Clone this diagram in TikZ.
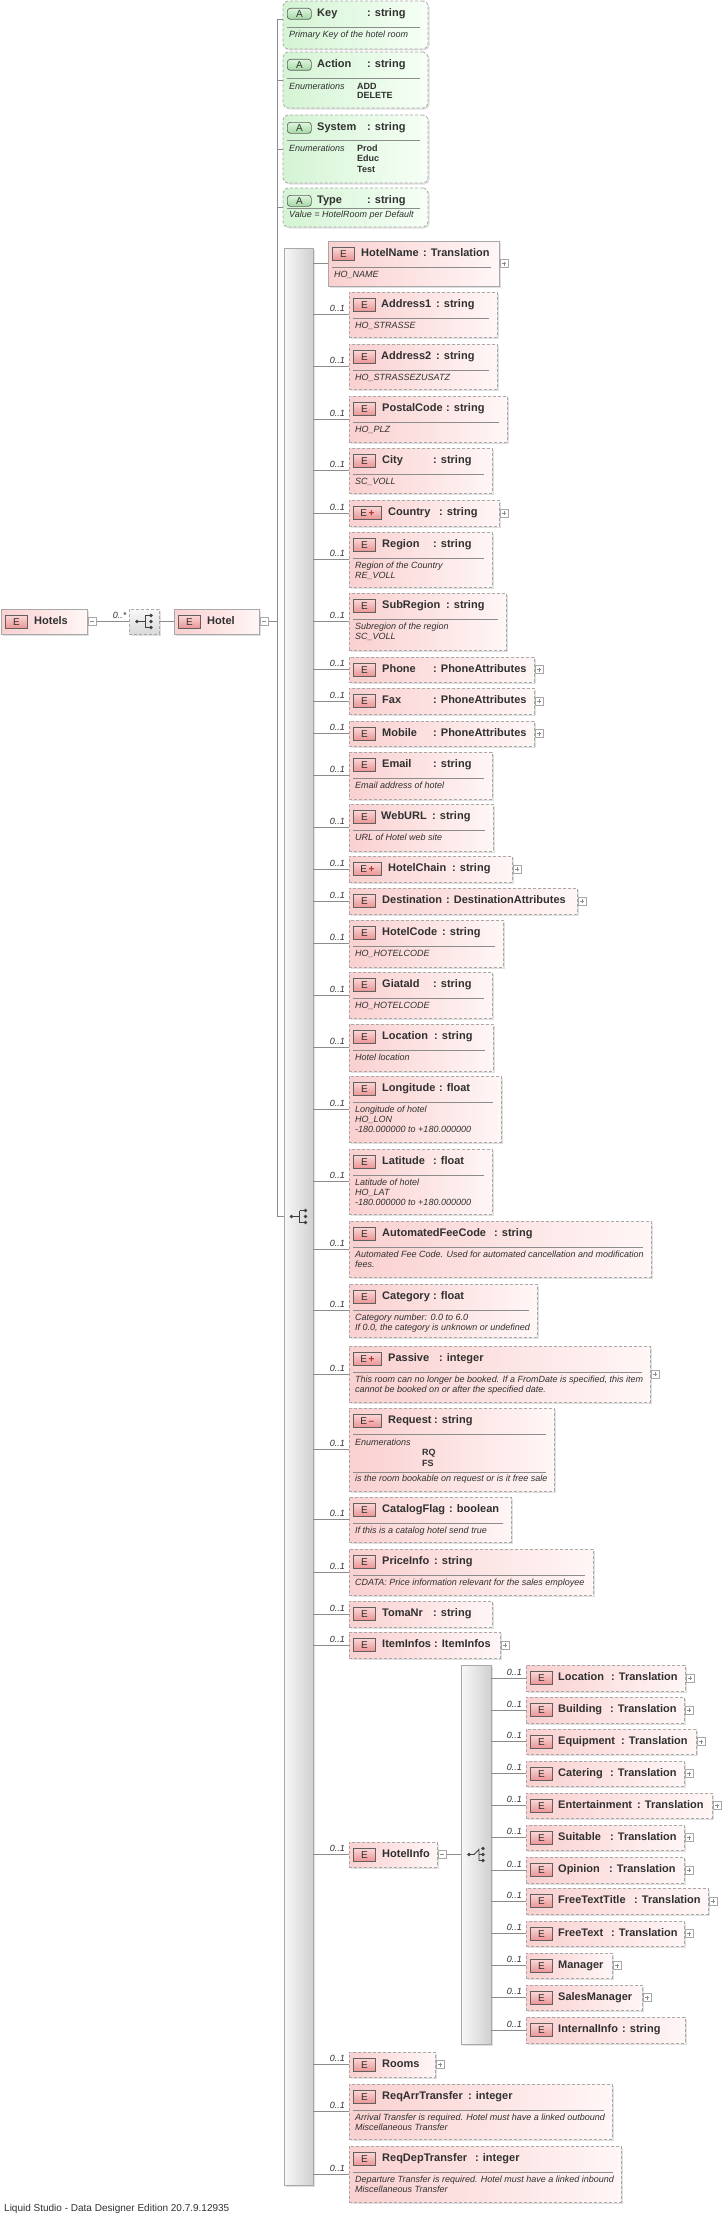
\documentclass[tikz,border=0pt]{standalone}
\usepackage{fontspec}
\setmainfont{Liberation Sans}
\usetikzlibrary{positioning,calc,shadows}
\definecolor{linegray}{HTML}{8C8C8C}
\definecolor{boxgray}{HTML}{A8A8A8}
\definecolor{pinkL}{HTML}{FAD0D0}
\definecolor{pinkR}{HTML}{FFF6F6}
\definecolor{icoT}{HTML}{FBD6D6}
\definecolor{icoB}{HTML}{EC9494}
\definecolor{icoline}{HTML}{606060}
\definecolor{greenL}{HTML}{D4F4D4}
\definecolor{greenR}{HTML}{F6FFF6}
\definecolor{agreenT}{HTML}{DDF6DD}
\definecolor{agreenB}{HTML}{A4D8A4}
\definecolor{barL}{HTML}{F8F8F8}
\definecolor{barR}{HTML}{D0D0D0}
\definecolor{txt}{HTML}{303030}
\definecolor{icondark}{HTML}{404040}
\definecolor{badgered}{HTML}{B03030}

% box of one element, from its left/top/right/bottom in pixels
\newcommand{\elbox}[6][elem]{\node[#1,minimum width={#5-#3},minimum height={#6-#4}] (#2) at (#3,#4) {};}
\newcommand{\eico}[3][]{\node[eico,#1] (#2-i) at ([shift={(4,6)}]#2.north west) {#3};}
\newcommand{\aico}[1]{\node[aico] (#1-i) at ([shift={(4,7)}]#1.north west) {A};}
\newcommand{\ename}[3]{\node[ttl] (#1-n) at ([shift={(#2,15.5)}]#1.north west) {#3};}
\newcommand{\etype}[3]{\node[ttl] (#1-y) at ([shift={(#2,15.5)}]#1.north west) {: #3};}
\newcommand{\esep}[2][26.5]{\draw[sepl] ([shift={(4,#1)}]#2.north west) -- ([shift={(-8,#1)}]#2.north east);}
\newcommand{\edesc}[3][36.5]{\foreach \ln [count=\i from 0] in {#3} \node[dsc] (#2-d\i) at ([shift={(6,#1+10*\i)}]#2.north west) {\ln};}
% sequence and choice marks on the bars
\newcommand{\seqicon}[1]{%
  \begin{scope}[shift={#1}]
    \draw[icondark,line width=0.8pt] (-7,0) -- (1,0) (1,-6) -- (1,6) (1,-6) -- (7,-6) (1,6) -- (7,6);
    \fill[icondark] (-7,0) circle (1.8pt) (7,-6) circle (1.8pt) (7,0) circle (1.8pt) (7,6) circle (1.8pt);
  \end{scope}}
\newcommand{\choiceicon}[1]{%
  \begin{scope}[shift={#1}]
    \draw[icondark,line width=0.8pt] (-7,0) -- (-2,0) -- (3,-5) (3,0) -- (7,0) (3,-6) -- (3,6) (3,6) -- (7,6);
    \fill[icondark] (-7,0) circle (1.8pt) (7,-6) circle (1.8pt) (7,0) circle (1.8pt) (7,6) circle (1.8pt);
  \end{scope}}

\begin{document}
\begin{tikzpicture}[x=1pt,y=-1pt,
    conn/.style={draw=linegray,line width=0.8pt},
    myshadow/.style={drop shadow={shadow xshift=1.5pt,shadow yshift=-1.5pt,fill=black,opacity=0.12}}]
  \tikzstyle{elem}=[rectangle,anchor=north west,draw=boxgray,line width=0.8pt,dash pattern=on 3pt off 2pt,left color=pinkL,right color=pinkR,inner sep=0pt,outer sep=0pt,myshadow]
  \tikzstyle{elemsolid}=[elem,solid]
  \tikzstyle{attr}=[elem,rounded corners=5pt,left color=greenL,right color=greenR]
  \tikzstyle{eico}=[rectangle,anchor=north west,draw=icoline,line width=0.7pt,top color=icoT,bottom color=icoB,minimum width=22pt,minimum height=13pt,inner sep=0pt,font=\fontsize{10}{10}\selectfont,text=txt]
  \tikzstyle{aico}=[eico,rounded corners=3pt,top color=agreenT,bottom color=agreenB,minimum width=24pt,minimum height=11pt]
  \tikzstyle{ttl}=[inner sep=0pt,anchor=base west,text=txt,font=\fontsize{11}{13}\selectfont\bfseries]
  \tikzstyle{dsc}=[inner sep=0pt,anchor=base west,text=txt,font=\fontsize{9}{10}\selectfont\itshape]
  \tikzstyle{enumval}=[dsc,font=\fontsize{9}{10}\selectfont\bfseries]
  \tikzstyle{occl}=[inner sep=0pt,anchor=base east,text=txt,font=\fontsize{9}{10}\selectfont\itshape]
  \tikzstyle{sepl}=[draw=linegray,line width=0.6pt]
  \tikzstyle{pm}=[rectangle,anchor=west,draw=boxgray,fill=white,line width=0.6pt,minimum size=8pt,inner sep=0pt]
  \tikzstyle{pmplus}=[pm,path picture={\draw[linegray,line width=0.6pt] ([xshift=2pt]path picture bounding box.west) -- ([xshift=-2pt]path picture bounding box.east) ([yshift=-2pt]path picture bounding box.north) -- ([yshift=2pt]path picture bounding box.south);}]
  \tikzstyle{pmminus}=[pm,path picture={\draw[linegray,line width=0.6pt] ([xshift=2pt]path picture bounding box.west) -- ([xshift=-2pt]path picture bounding box.east);}]
  \tikzstyle{bar}=[rectangle,draw=boxgray,line width=0.8pt,left color=barL,right color=barR,inner sep=0pt,myshadow]
  \tikzstyle{seqb}=[rectangle,draw=boxgray,line width=0.8pt,dash pattern=on 3pt off 2pt,top color=barL,bottom color=barR!80,minimum width=30pt,minimum height=25pt,inner sep=0pt,myshadow]

  \path[use as bounding box,fill=white] (0,0) rectangle (724,2216);

  % root elements
  \elbox[elemsolid]{hotels}{1}{609}{87}{634} \eico{hotels}{E} \ename{hotels}{33}{Hotels}
  \node[seqb] (seqbox) at (144,621.5) {};
  \elbox[elemsolid]{hotel}{174}{609}{259}{634} \eico{hotel}{E} \ename{hotel}{33}{Hotel}
  \foreach \nm in {hotels,hotel}
    \node[pmminus] (\nm-pm) at ([xshift=1pt]\nm.east) {};
  \seqicon{(seqbox.center)}
  \coordinate (trunk) at (277,621.5);

  % attributes
  \elbox[attr]{key}{283}{1}{428}{49} \aico{key} \ename{key}{34}{Key} \etype{key}{84}{string} \esep{key}
  \edesc{key}{Primary Key of the hotel room}
  \elbox[attr]{action}{283}{52}{428}{108} \aico{action} \ename{action}{34}{Action} \etype{action}{84}{string} \esep{action}
  \node[dsc] (action-en) at ([shift={(6,37)}]action.north west) {Enumerations};
  \foreach \v [count=\i from 0] in {ADD,DELETE}
    \node[enumval] (action-v\i) at ([shift={(74,37+10*\i)}]action.north west) {\v};
  \elbox[attr]{system}{283}{115}{428}{183} \aico{system} \ename{system}{34}{System} \etype{system}{84}{string} \esep[25.5]{system}
  \node[dsc] (system-en) at ([shift={(6,36)}]system.north west) {Enumerations};
  \foreach \v [count=\i from 0] in {Prod,Educ,Test}
    \node[enumval] (system-v\i) at ([shift={(74,36+10.5*\i)}]system.north west) {\v};
  \elbox[attr]{type}{283}{188}{428}{227} \aico{type} \ename{type}{34}{Type} \etype{type}{84}{string} \esep[20]{type}
  \edesc[29]{type}{Value = HotelRoom per Default}

  % sequence of Hotel
  \node[bar,minimum width=29pt,minimum height=1937pt] (mainbar) at (298.5,1216.5) {};

  \elbox[elemsolid]{hotelname}{328}{241}{499}{286} \eico{hotelname}{E} \ename{hotelname}{33}{HotelName} \etype{hotelname}{95}{Translation} \esep{hotelname} \edesc{hotelname}{HO\_NAME}
  \elbox{address1}{349}{292}{497}{337} \eico{address1}{E} \ename{address1}{32}{Address1} \etype{address1}{87}{string} \esep{address1} \edesc{address1}{HO\_STRASSE}
  \elbox{address2}{349}{344}{497}{389} \eico{address2}{E} \ename{address2}{32}{Address2} \etype{address2}{87}{string} \esep{address2} \edesc{address2}{HO\_STRASSEZUSATZ}
  \elbox{postalcode}{349}{396}{507}{442} \eico{postalcode}{E} \ename{postalcode}{33}{PostalCode} \etype{postalcode}{97}{string} \esep{postalcode} \edesc{postalcode}{HO\_PLZ}
  \elbox{city}{349}{448}{492}{493} \eico{city}{E} \ename{city}{33}{City} \etype{city}{84}{string} \esep{city} \edesc{city}{SC\_VOLL}
  \elbox{country}{349}{500}{499}{526} \eico[minimum width=28pt]{country}{E\,\textcolor{badgered}{\textbf{+}}} \ename{country}{39}{Country} \etype{country}{90}{string}
  \elbox{region}{349}{532}{492}{587} \eico{region}{E} \ename{region}{33}{Region} \etype{region}{84}{string} \esep{region} \edesc{region}{Region of the Country,RE\_VOLL}
  \elbox{subregion}{349}{593}{506}{650} \eico{subregion}{E} \ename{subregion}{33}{SubRegion} \etype{subregion}{97}{string} \esep{subregion} \edesc{subregion}{Subregion of the region,SC\_VOLL}
  \elbox{phone}{349}{657}{534}{682} \eico{phone}{E} \ename{phone}{33}{Phone} \etype{phone}{84}{PhoneAttributes}
  \elbox{fax}{349}{688}{534}{714} \eico{fax}{E} \ename{fax}{33}{Fax} \etype{fax}{84}{PhoneAttributes}
  \elbox{mobile}{349}{721}{534}{746} \eico{mobile}{E} \ename{mobile}{33}{Mobile} \etype{mobile}{84}{PhoneAttributes}
  \elbox{email}{349}{752}{492}{799} \eico{email}{E} \ename{email}{33}{Email} \etype{email}{84}{string} \esep{email} \edesc{email}{Email address of hotel}
  \elbox{weburl}{349}{804}{493}{851} \eico{weburl}{E} \ename{weburl}{32}{WebURL} \etype{weburl}{83}{string} \esep{weburl} \edesc{weburl}{URL of Hotel web site}
  \elbox{hotelchain}{349}{856}{512}{882} \eico[minimum width=28pt]{hotelchain}{E\,\textcolor{badgered}{\textbf{+}}} \ename{hotelchain}{39}{HotelChain} \etype{hotelchain}{103}{string}
  \elbox{destination}{349}{888}{577}{914} \eico{destination}{E} \ename{destination}{33}{Destination} \etype{destination}{97}{DestinationAttributes}
  \elbox{hotelcode}{349}{920}{503}{967} \eico{hotelcode}{E} \ename{hotelcode}{33}{HotelCode} \etype{hotelcode}{93}{string} \esep{hotelcode} \edesc{hotelcode}{HO\_HOTELCODE}
  \elbox{giataid}{349}{972}{492}{1018} \eico{giataid}{E} \ename{giataid}{33}{GiataId} \etype{giataid}{84}{string} \esep{giataid} \edesc{giataid}{HO\_HOTELCODE}
  \elbox{location}{349}{1024}{493}{1071} \eico{location}{E} \ename{location}{33}{Location} \etype{location}{85}{string} \esep{location} \edesc{location}{Hotel location}
  \elbox{longitude}{349}{1076}{501}{1142} \eico{longitude}{E} \ename{longitude}{33}{Longitude} \etype{longitude}{90}{float} \esep{longitude} \edesc{longitude}{Longitude of hotel,HO\_LON,-180.000000 to +180.000000}
  \elbox{latitude}{349}{1149}{492}{1214} \eico{latitude}{E} \ename{latitude}{33}{Latitude} \etype{latitude}{84}{float} \esep{latitude} \edesc{latitude}{Latitude of hotel,HO\_LAT,-180.000000 to +180.000000}
  \elbox{autofee}{349}{1221}{651}{1277} \eico{autofee}{E} \ename{autofee}{33}{AutomatedFeeCode} \etype{autofee}{145}{string} \esep{autofee} \edesc{autofee}{Automated Fee Code. Used for automated cancellation and modification,fees.}
  \elbox{category}{349}{1284}{537}{1337} \eico{category}{E} \ename{category}{33}{Category} \etype{category}{84}{float} \esep{category} \edesc{category}{Category number: 0.0 to 6.0,{If 0.0, the category is unknown or undefined}}
  \elbox{passive}{349}{1346}{650}{1402} \eico[minimum width=28pt]{passive}{E\,\textcolor{badgered}{\textbf{+}}} \ename{passive}{39}{Passive} \etype{passive}{90}{integer} \esep{passive} \edesc{passive}{{This room can no longer be booked. If a FromDate is specified, this item},cannot be booked on or after the specified date.}
  \elbox{request}{349}{1408}{554}{1491} \eico[minimum width=28pt]{request}{E\,\textcolor{badgered}{\textbf{--}}} \ename{request}{39}{Request} \etype{request}{85}{string} \esep{request}
  \node[dsc] (request-en) at ([shift={(6,37)}]request.north west) {Enumerations};
  \foreach \v [count=\i from 0] in {RQ,FS}
    \node[enumval] (request-v\i) at ([shift={(73,47.5+10.5*\i)}]request.north west) {\v};
  \esep[64]{request} \edesc[73]{request}{is the room bookable on request or is it free sale}
  \elbox{catalogflag}{349}{1497}{511}{1542} \eico{catalogflag}{E} \ename{catalogflag}{33}{CatalogFlag} \etype{catalogflag}{100}{boolean} \esep{catalogflag} \edesc{catalogflag}{If this is a catalog hotel send true}
  \elbox{priceinfo}{349}{1549}{593}{1595} \eico{priceinfo}{E} \ename{priceinfo}{33}{PriceInfo} \etype{priceinfo}{85}{string} \esep{priceinfo} \edesc{priceinfo}{CDATA: Price information relevant for the sales employee}
  \elbox{tomanr}{349}{1601}{492}{1627} \eico{tomanr}{E} \ename{tomanr}{33}{TomaNr} \etype{tomanr}{84}{string}
  \elbox{iteminfos}{349}{1632}{500}{1658} \eico{iteminfos}{E} \ename{iteminfos}{33}{ItemInfos} \etype{iteminfos}{85}{ItemInfos}
  \elbox{hotelinfo}{349}{1842}{437}{1867} \eico{hotelinfo}{E} \ename{hotelinfo}{33}{HotelInfo}
  \node[pmminus] (hotelinfo-pm) at ([xshift=1pt]hotelinfo.east) {};
  \elbox{rooms}{349}{2052}{435}{2077} \eico{rooms}{E} \ename{rooms}{33}{Rooms}
  \elbox{reqarr}{349}{2084}{612}{2139} \eico{reqarr}{E} \ename{reqarr}{33}{ReqArrTransfer} \etype{reqarr}{119}{integer} \esep{reqarr} \edesc{reqarr}{Arrival Transfer is required. Hotel must have a linked outbound,Miscellaneous Transfer}
  \elbox{reqdep}{349}{2146}{621}{2202} \eico{reqdep}{E} \ename{reqdep}{33}{ReqDepTransfer} \etype{reqdep}{126}{integer} \esep{reqdep} \edesc{reqdep}{Departure Transfer is required. Hotel must have a linked inbound,Miscellaneous Transfer}

  % choice inside HotelInfo
  \node[bar,minimum width=30pt,minimum height=379pt] (innerbar) at (476,1854.5) {};
  \elbox{loc2}{526}{1665}{685}{1691} \eico{loc2}{E} \ename{loc2}{32}{Location} \etype{loc2}{85}{Translation}
  \elbox{building}{526}{1697}{684}{1723} \eico{building}{E} \ename{building}{32}{Building} \etype{building}{84}{Translation}
  \elbox{equipment}{526}{1729}{696}{1754} \eico{equipment}{E} \ename{equipment}{32}{Equipment} \etype{equipment}{95}{Translation}
  \elbox{catering}{526}{1761}{684}{1786} \eico{catering}{E} \ename{catering}{32}{Catering} \etype{catering}{84}{Translation}
  \elbox{entertainment}{526}{1793}{712}{1818} \eico{entertainment}{E} \ename{entertainment}{32}{Entertainment} \etype{entertainment}{111}{Translation}
  \elbox{suitable}{526}{1825}{684}{1850} \eico{suitable}{E} \ename{suitable}{32}{Suitable} \etype{suitable}{84}{Translation}
  \elbox{opinion}{526}{1857}{684}{1883} \eico{opinion}{E} \ename{opinion}{32}{Opinion} \etype{opinion}{83}{Translation}
  \elbox{freetexttitle}{526}{1888}{708}{1914} \eico{freetexttitle}{E} \ename{freetexttitle}{32}{FreeTextTitle} \etype{freetexttitle}{108}{Translation}
  \elbox{freetext}{526}{1921}{684}{1946} \eico{freetext}{E} \ename{freetext}{32}{FreeText} \etype{freetext}{85}{Translation}
  \elbox{manager}{526}{1953}{612}{1978} \eico{manager}{E} \ename{manager}{32}{Manager}
  \elbox{salesmanager}{526}{1985}{642}{2010} \eico{salesmanager}{E} \ename{salesmanager}{32}{SalesManager}
  \elbox{internalinfo}{526}{2017}{685}{2043} \eico{internalinfo}{E} \ename{internalinfo}{32}{InternalInfo} \etype{internalinfo}{96}{string}

  \foreach \nm in {hotelname,country,phone,fax,mobile,hotelchain,destination,passive,iteminfos,rooms,loc2,building,equipment,catering,entertainment,suitable,opinion,freetexttitle,freetext,manager,salesmanager}
    \node[pmplus] (\nm-pm) at ([xshift=1pt]\nm.east) {};

  % Connect every node
  \draw[conn] (hotels-pm.east) -- (seqbox.west);
  \node[occl] (seq-o) at ([shift={(-2,-3)}]seqbox.west) {0..*};
  \draw[conn] (seqbox.east) -- (hotel.west);
  \draw[conn] (hotel-pm.east) -- (trunk);
  \draw[conn] ([yshift=6pt]key.west -| trunk) -- (trunk |- mainbar.west) -- (mainbar.west);
  \draw[conn] ([yshift=6pt]key.west -| trunk) -- ([yshift=6pt]key.west);
  \foreach \nm in {action,system,type}
    \draw[conn] (\nm.west -| trunk) -- (\nm.west);
  \draw[conn] (mainbar.east |- hotelname.west) -- (hotelname.west);
  \foreach \nm in {address1,address2,postalcode,city,country,region,subregion,phone,fax,mobile,email,weburl,hotelchain,destination,hotelcode,giataid,location,longitude,latitude,autofee,category,passive,request,catalogflag,priceinfo,tomanr,iteminfos,hotelinfo,rooms,reqarr,reqdep} {
    \draw[conn] (mainbar.east |- \nm.west) -- (\nm.west);
    \node[occl] (\nm-o) at ([shift={(-4,-3)}]\nm.west) {0..1};
  }
  \draw[conn] (hotelinfo-pm.east) -- (innerbar.west);
  \foreach \nm in {loc2,building,equipment,catering,entertainment,suitable,opinion,freetexttitle,freetext,manager,salesmanager,internalinfo} {
    \draw[conn] (innerbar.east |- \nm.west) -- (\nm.west);
    \node[occl] (\nm-o) at ([shift={(-4,-3)}]\nm.west) {0..1};
  }
  \seqicon{(mainbar.center)}
  \choiceicon{(innerbar.center)}

  \node[inner sep=0pt,anchor=base west,text=txt,font=\fontsize{10}{12}\selectfont] (footer) at (4,2211) {Liquid Studio - Data Designer Edition 20.7.9.12935};
\end{tikzpicture}
\end{document}
